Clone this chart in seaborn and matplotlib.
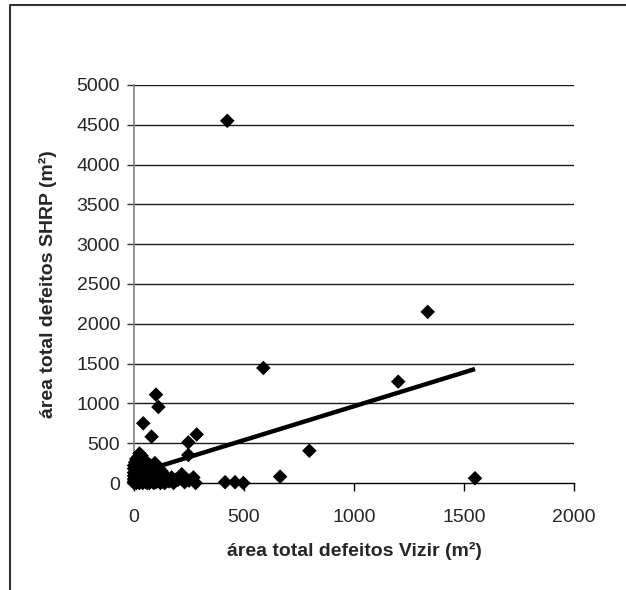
import matplotlib
matplotlib.use("Agg")
import matplotlib.pyplot as plt
import seaborn as sns
import pandas as pd
import numpy as np
from matplotlib.lines import Line2D

# ---- data ----
vizir = [424, 1335, 588, 1201, 100, 111, 42, 80, 285, 247, 797, 247, 1550, 664,
         414, 459, 497, 217, 171, 270, 190, 150,
         0, 0, 0, 0, 0, 0, 0, 5, 10, 15, 15, 15, 20, 20, 25, 30, 30, 30, 30, 35,
         40, 40, 45, 45, 45, 50, 55, 55, 60, 60, 65, 70, 70, 75, 80, 85, 90, 95,
         100, 100, 105, 110, 120, 125, 130, 140, 140, 160, 180, 200, 230, 250,
         280, 120, 60, 10, 25, 90]
shrp = [4550, 2150, 1445, 1273, 1110, 955, 750, 582, 610, 510, 405, 352, 60, 80,
        10, 10, 0, 110, 70, 70, 40, 30,
        0, 20, 50, 90, 130, 180, 220, 260, 300, 10, 60, 120, 200, 330, 370, 30, 90,
        160, 250, 340, 0, 300, 60, 140, 220, 280, 10, 110, 180, 250, 40, 0, 130,
        220, 70, 20, 160, 250, 100, 10, 40, 200, 60, 150, 20, 0, 100, 20, 0, 40,
        10, 30, 0, 0, 0, 0, 0, 0]

trend_slope = 0.851
trend_intercept = 113

x_ticks = [0, 500, 1000, 1500, 2000]
y_ticks = [0, 500, 1000, 1500, 2000, 2500, 3000, 3500, 4000, 4500, 5000]

df = pd.DataFrame({"vizir": vizir, "shrp": shrp})

sns.set_style("white")
plt.rcParams["font.family"] = ["Liberation Sans", "DejaVu Sans"]

fig = plt.figure(figsize=(6.26, 5.90), dpi=100)
ax = fig.add_axes([134 / 626, 1 - 483 / 590, 440 / 626, 398 / 590])

# grid lines
for yv in y_ticks[1:]:
    ax.axhline(yv, color="#1a1a1a", lw=1.0, zorder=1)

sns.scatterplot(data=df, x="vizir", y="shrp", marker="D", color="black",
                s=55, edgecolor="none", ax=ax, zorder=3, clip_on=False)

tx = np.array([min(vizir), max(vizir)])
ax.plot(tx, trend_intercept + trend_slope * tx, color="black", lw=3.2,
        solid_capstyle="butt", zorder=4)

ax.set_xlim(0, 2000)
ax.set_ylim(0, 5000)
ax.set_xticks(x_ticks)
ax.set_yticks(y_ticks)
ax.set_xticklabels([str(v) for v in x_ticks], fontsize=14)
ax.set_yticklabels([str(v) for v in y_ticks], fontsize=14)

ax.set_xlabel("área total defeitos Vizir (m²)", fontsize=14, fontweight="bold",
              labelpad=11)
ax.set_ylabel("área total defeitos SHRP (m²)", fontsize=14, fontweight="bold",
              labelpad=14)

for s in ["top", "right"]:
    ax.spines[s].set_visible(False)
ax.spines["left"].set_color("#808080")
ax.spines["left"].set_linewidth(1.2)
ax.spines["bottom"].set_color("black")
ax.spines["bottom"].set_linewidth(1.0)
ax.tick_params(axis="y", direction="out", length=5, width=1, color="#333333",
               pad=5, left=True)
ax.tick_params(axis="x", direction="out", length=6, width=1, color="black",
               pad=13, bottom=True)
ax.grid(False)

# outer chart-area frame (cropped at the right and bottom)
fig.add_artist(Line2D([10 / 626, 10 / 626, 1.0], [0.0, 1 - 5 / 590, 1 - 5 / 590],
                      transform=fig.transFigure, color="#333333", lw=1.5))

fig.savefig("out.png", dpi=100)
